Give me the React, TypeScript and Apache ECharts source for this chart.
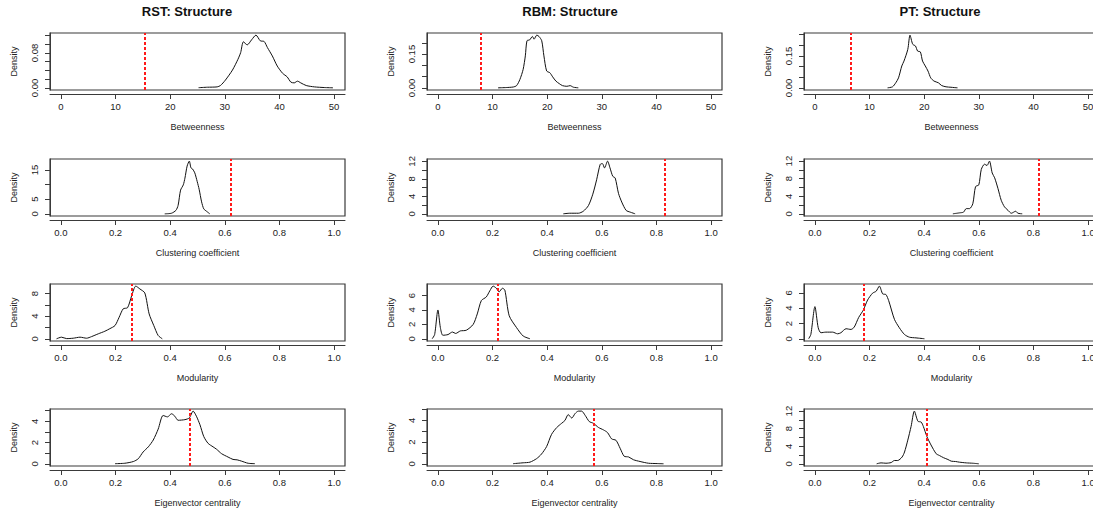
import React, { useEffect, useRef } from "react";
import * as echarts from "echarts";

const FONT = '"Liberation Sans", Arial, Helvetica, sans-serif';

const columnTitles = ["RST: Structure", "RBM: Structure", "PT: Structure"];
const metricNames = ["Betweenness", "Clustering coefficient", "Modularity", "Eigenvector centrality"];

const betweennessTicks = [0, 10, 20, 30, 40, 50];
const unitTicks = [0, 0.2, 0.4, 0.6, 0.8, 1.0];

// ---- RST ----
const rstBetweennessX = [25.2, 26.8, 28.6, 29.2, 30.1, 31.4, 32.4, 32.9, 33.4, 34.1, 34.9, 35.7, 36.5, 37.2, 37.8, 38.7, 39.6, 40.6, 41.4, 42.1, 42.7, 43.3, 43.9, 44.9, 46.4, 48.2, 49.8];
const rstBetweennessY = [0.0005, 0.0015, 0.0023, 0.0054, 0.0177, 0.0408, 0.0654, 0.0808, 0.1054, 0.0985, 0.11, 0.1208, 0.1077, 0.1062, 0.0923, 0.0731, 0.05, 0.0331, 0.0254, 0.0131, 0.0115, 0.0154, 0.0115, 0.0054, 0.0023, 0.0008, 0.0002];
const rstClusteringX = [0.38, 0.405, 0.421, 0.429, 0.438, 0.448, 0.454, 0.462, 0.47, 0.476, 0.482, 0.49, 0.499, 0.506, 0.515, 0.523, 0.533, 0.545];
const rstClusteringY = [0.02, 0.23, 1.2, 2.9, 8.1, 9.9, 12.2, 16.3, 18.0, 15.7, 15.3, 14.0, 11.0, 8.4, 4.1, 1.7, 0.9, 0.02];
const rstModularityX = [-0.016, 0.002, 0.021, 0.045, 0.07, 0.094, 0.112, 0.137, 0.161, 0.179, 0.198, 0.213, 0.228, 0.244, 0.259, 0.274, 0.289, 0.307, 0.323, 0.34, 0.356, 0.371];
const rstModularityY = [0.02, 0.3, 0.05, 0.12, 0.3, 0.12, 0.4, 0.9, 1.35, 1.8, 2.35, 3.8, 5.3, 5.5, 7.6, 9.3, 8.8, 8.1, 4.4, 2.35, 0.6, 0.02];
const rstEigenX = [0.198, 0.234, 0.265, 0.283, 0.301, 0.32, 0.338, 0.356, 0.374, 0.39, 0.405, 0.417, 0.429, 0.454, 0.47, 0.484, 0.496, 0.509, 0.523, 0.539, 0.557, 0.57, 0.588, 0.612, 0.63, 0.645, 0.661, 0.685, 0.71];
const rstEigenY = [0.02, 0.06, 0.22, 0.48, 1.12, 1.6, 2.24, 3.26, 4.54, 4.41, 4.7, 4.47, 4.09, 4.15, 4.31, 4.95, 4.47, 3.67, 2.56, 1.92, 1.6, 1.37, 0.96, 0.64, 0.42, 0.38, 0.26, 0.06, 0.02];
const rstObserved = [15.3, 0.618, 0.261, 0.47];

// ---- RBM ----
const rbmBetweennessX = [11.0, 12.5, 13.8, 14.4, 15.0, 15.6, 16.0, 16.3, 16.8, 17.3, 17.6, 18.1, 18.5, 19.0, 19.4, 19.9, 20.5, 21.0, 21.6, 22.2, 22.8, 23.6, 24.2, 24.8, 25.7];
const rbmBetweennessY = [0.0003, 0.0015, 0.004, 0.01, 0.037, 0.082, 0.142, 0.209, 0.213, 0.228, 0.216, 0.234, 0.228, 0.209, 0.142, 0.075, 0.067, 0.049, 0.03, 0.019, 0.01, 0.007, 0.01, 0.003, 0.0003];
const rbmClusteringX = [0.459, 0.483, 0.514, 0.532, 0.551, 0.567, 0.581, 0.594, 0.602, 0.61, 0.621, 0.63, 0.64, 0.649, 0.661, 0.673, 0.689, 0.704, 0.722];
const rbmClusteringY = [0.02, 0.15, 0.15, 0.6, 1.9, 4.5, 7.8, 11.3, 11.5, 10.5, 12.06, 10.5, 8.6, 8.2, 4.7, 2.7, 0.8, 0.4, 0.02];
const rbmModularityX = [-0.021, -0.012, 0.0, 0.009, 0.018, 0.037, 0.053, 0.065, 0.082, 0.104, 0.129, 0.144, 0.159, 0.177, 0.19, 0.202, 0.214, 0.224, 0.236, 0.245, 0.261, 0.288, 0.312, 0.337];
const rbmModularityY = [0.02, 0.6, 4.0, 1.55, 0.5, 0.6, 0.95, 0.75, 1.1, 1.2, 2.0, 3.45, 5.3, 5.8, 6.65, 7.3, 7.0, 6.5, 7.0, 6.75, 3.2, 1.55, 0.4, 0.02];
const rbmEigenX = [0.275, 0.312, 0.337, 0.361, 0.379, 0.398, 0.416, 0.435, 0.453, 0.465, 0.477, 0.49, 0.502, 0.514, 0.526, 0.539, 0.554, 0.569, 0.588, 0.606, 0.621, 0.636, 0.652, 0.667, 0.682, 0.698, 0.716, 0.74, 0.771, 0.802, 0.826];
const rbmEigenY = [0.02, 0.1, 0.16, 0.48, 0.9, 1.6, 2.72, 3.35, 3.74, 4.0, 4.54, 4.22, 4.63, 4.86, 4.86, 4.47, 3.9, 3.74, 3.35, 3.13, 2.88, 2.3, 2.17, 1.44, 0.7, 0.64, 0.38, 0.22, 0.06, 0.03, 0.01];
const rbmObserved = [7.8, 0.826, 0.218, 0.572];

// ---- PT ----
const ptBetweennessX = [13.3, 14.2, 14.8, 15.3, 15.9, 16.3, 17.0, 17.4, 17.9, 18.4, 18.8, 19.3, 19.7, 20.2, 20.7, 21.2, 21.8, 22.6, 23.2, 24.0, 24.9, 25.5, 26.1];
const ptBetweennessY = [0.0003, 0.005, 0.024, 0.047, 0.103, 0.126, 0.181, 0.248, 0.205, 0.197, 0.173, 0.169, 0.126, 0.103, 0.079, 0.047, 0.032, 0.024, 0.011, 0.005, 0.003, 0.0015, 0.0003];
const ptClusteringX = [0.505, 0.529, 0.544, 0.554, 0.566, 0.578, 0.588, 0.6, 0.609, 0.621, 0.63, 0.639, 0.649, 0.658, 0.67, 0.682, 0.694, 0.707, 0.719, 0.735, 0.743, 0.759];
const ptClusteringY = [0.02, 0.23, 0.4, 1.2, 1.2, 2.3, 6.2, 6.6, 10.1, 11.3, 11.0, 12.0, 9.3, 8.2, 5.8, 3.1, 1.6, 0.8, 0.15, 0.6, 0.15, 0.02];
const ptModularityX = [-0.023, -0.015, 0.0, 0.012, 0.022, 0.04, 0.065, 0.083, 0.095, 0.114, 0.132, 0.144, 0.16, 0.177, 0.193, 0.211, 0.224, 0.236, 0.248, 0.26, 0.27, 0.291, 0.309, 0.328, 0.346, 0.37, 0.401];
const ptModularityY = [0.02, 0.57, 4.2, 1.45, 0.8, 0.88, 0.88, 0.66, 0.8, 1.32, 1.23, 1.54, 2.78, 3.74, 5.07, 5.95, 6.2, 6.87, 5.86, 5.77, 4.98, 2.55, 1.45, 0.57, 0.22, 0.13, 0.02];
const ptEigenX = [0.226, 0.242, 0.26, 0.279, 0.291, 0.303, 0.319, 0.328, 0.34, 0.352, 0.364, 0.377, 0.389, 0.397, 0.41, 0.425, 0.444, 0.456, 0.471, 0.487, 0.499, 0.515, 0.529, 0.554, 0.578, 0.6];
const ptEigenY = [0.02, 0.23, 0.15, 0.3, 0.77, 0.77, 1.55, 2.7, 5.4, 8.5, 12.0, 9.7, 9.5, 8.5, 6.2, 4.3, 2.3, 1.9, 1.4, 1.0, 0.62, 0.54, 0.39, 0.23, 0.15, 0.02];
const ptObserved = [6.5, 0.825, 0.185, 0.407];

// ---- y-axis tick marks and labelled ticks (rows: betweenness, clustering, modularity, eigenvector) ----
const rstYTicks = [[0, 0.02, 0.04, 0.06, 0.08, 0.1, 0.12], [0, 5, 10, 15], [0, 2, 4, 6, 8], [0, 1, 2, 3, 4, 5]];
const rstYLabels = [[0, 0.08], [0, 5, 15], [0, 4, 8], [0, 2, 4]];
const rbmYTicks = [[0, 0.05, 0.1, 0.15, 0.2], [0, 2, 4, 6, 8, 10, 12], [0, 2, 4, 6], [0, 1, 2, 3, 4, 5]];
const rbmYLabels = [[0, 0.15], [0, 4, 8, 12], [0, 2, 4, 6], [0, 2, 4]];
const ptYTicks = [[0, 0.05, 0.1, 0.15, 0.2, 0.25], [0, 2, 4, 6, 8, 10, 12], [0, 2, 4, 6], [0, 2, 4, 6, 8, 10, 12]];
const ptYLabels = [[0, 0.15], [0, 4, 8, 12], [0, 2, 4, 6], [0, 4, 8, 12]];

// layout (pixels)
const colLeft = [50, 427, 804];
const rowTop = [33, 159, 284, 409];
const boxW = 295;
const boxH = 57;
const titleX = [187, 570, 940];
const titleY = 11;

const columns = [
  { xs: [rstBetweennessX, rstClusteringX, rstModularityX, rstEigenX], ys: [rstBetweennessY, rstClusteringY, rstModularityY, rstEigenY], obs: rstObserved, yt: rstYTicks, yl: rstYLabels },
  { xs: [rbmBetweennessX, rbmClusteringX, rbmModularityX, rbmEigenX], ys: [rbmBetweennessY, rbmClusteringY, rbmModularityY, rbmEigenY], obs: rbmObserved, yt: rbmYTicks, yl: rbmYLabels },
  { xs: [ptBetweennessX, ptClusteringX, ptModularityX, ptEigenX], ys: [ptBetweennessY, ptClusteringY, ptModularityY, ptEigenY], obs: ptObserved, yt: ptYTicks, yl: ptYLabels },
];

const AXIS_COLOR = "#3a3a3a";

function buildOption() {
  const grid: any[] = [];
  const xAxis: any[] = [];
  const yAxis: any[] = [];
  const series: any[] = [];
  const graphic: any[] = [];
  let idx = 0;
  for (let c = 0; c < 3; c++) {
    graphic.push({
      type: "text",
      x: titleX[c],
      y: titleY,
      style: {
        text: columnTitles[c],
        fontFamily: FONT,
        fontSize: 13,
        fontWeight: "bold",
        fill: "#111",
        align: "center",
        verticalAlign: "middle",
      },
    });
    const col = columns[c];
    for (let r = 0; r < 4; r++) {
      const isBetw = r === 0;
      const xs = col.xs[r];
      const ys = col.ys[r];
      const ymax = Math.max(...ys);
      const xTicks = isBetw ? betweennessTicks : unitTicks;
      const xMin = isBetw ? -2 : -0.04;
      const xMax = isBetw ? 52 : 1.04;
      grid.push({
        left: colLeft[c],
        top: rowTop[r],
        width: boxW,
        height: boxH,
        show: true,
        borderColor: AXIS_COLOR,
        borderWidth: 1.2,
        backgroundColor: "transparent",
        containLabel: false,
        outerBoundsMode: "none",
      });
      xAxis.push({
        gridIndex: idx,
        type: "value",
        position: "bottom",
        min: xMin,
        max: xMax,
        offset: 4,
        axisLine: { show: true, onZero: false, lineStyle: { color: AXIS_COLOR, width: 1 } },
        axisTick: { show: true, inside: false, length: 5, customValues: xTicks, lineStyle: { color: AXIS_COLOR, width: 1 } },
        axisLabel: {
          inside: false,
          customValues: xTicks,
          margin: 7,
          fontSize: 9.5,
          fontFamily: FONT,
          color: "#222",
          formatter: (v: number) => (isBetw ? String(Math.round(v)) : v.toFixed(1)),
        },
        splitLine: { show: false },
        name: metricNames[r],
        nameLocation: "middle",
        nameGap: 28,
        nameTextStyle: { fontSize: 9, fontFamily: FONT, color: "#222" },
      });
      yAxis.push({
        gridIndex: idx,
        type: "value",
        position: "left",
        offset: 0,
        min: -0.04 * ymax,
        max: 1.04 * ymax,
        axisLine: { show: true, onZero: false, lineStyle: { color: AXIS_COLOR, width: 1 } },
        axisTick: { show: true, inside: false, length: 5, customValues: col.yt[r], lineStyle: { color: AXIS_COLOR, width: 1 } },
        axisLabel: {
          inside: false,
          customValues: col.yl[r],
          rotate: 90,
          margin: 11,
          fontSize: 9.5,
          fontFamily: FONT,
          color: "#222",
          formatter: (v: number) => (isBetw ? v.toFixed(2) : String(Math.round(v))),
        },
        splitLine: { show: false },
        name: "Density",
        nameLocation: "middle",
        nameRotate: 90,
        nameGap: 32,
        nameTextStyle: { fontSize: 9, fontFamily: FONT, color: "#222" },
      });
      series.push({
        type: "line",
        xAxisIndex: idx,
        yAxisIndex: idx,
        data: xs.map((x, i) => [x, ys[i]]),
        showSymbol: false,
        symbol: "none",
        smooth: 0.25,
        lineStyle: { color: "#111", width: 1 },
        silent: true,
        markLine: {
          silent: true,
          symbol: ["none", "none"],
          label: { show: false },
          lineStyle: { color: "#ff1a1a", width: 2, type: [3, 2] },
          data: [{ xAxis: col.obs[r] }],
        },
      });
      idx++;
    }
  }
  return { animation: false, backgroundColor: "#ffffff", grid, xAxis, yAxis, series, graphic };
}

export default function App() {
  const ref = useRef<HTMLDivElement>(null);
  useEffect(() => {
    if (!ref.current) return;
    const chart = echarts.init(ref.current, undefined, { renderer: "svg" });
    chart.setOption(buildOption() as any);
    return () => chart.dispose();
  }, []);
  return (
    <div
      ref={ref}
      style={{ position: "fixed", left: 0, top: 0, width: 1093, height: 514, background: "#fff" }}
    />
  );
}
